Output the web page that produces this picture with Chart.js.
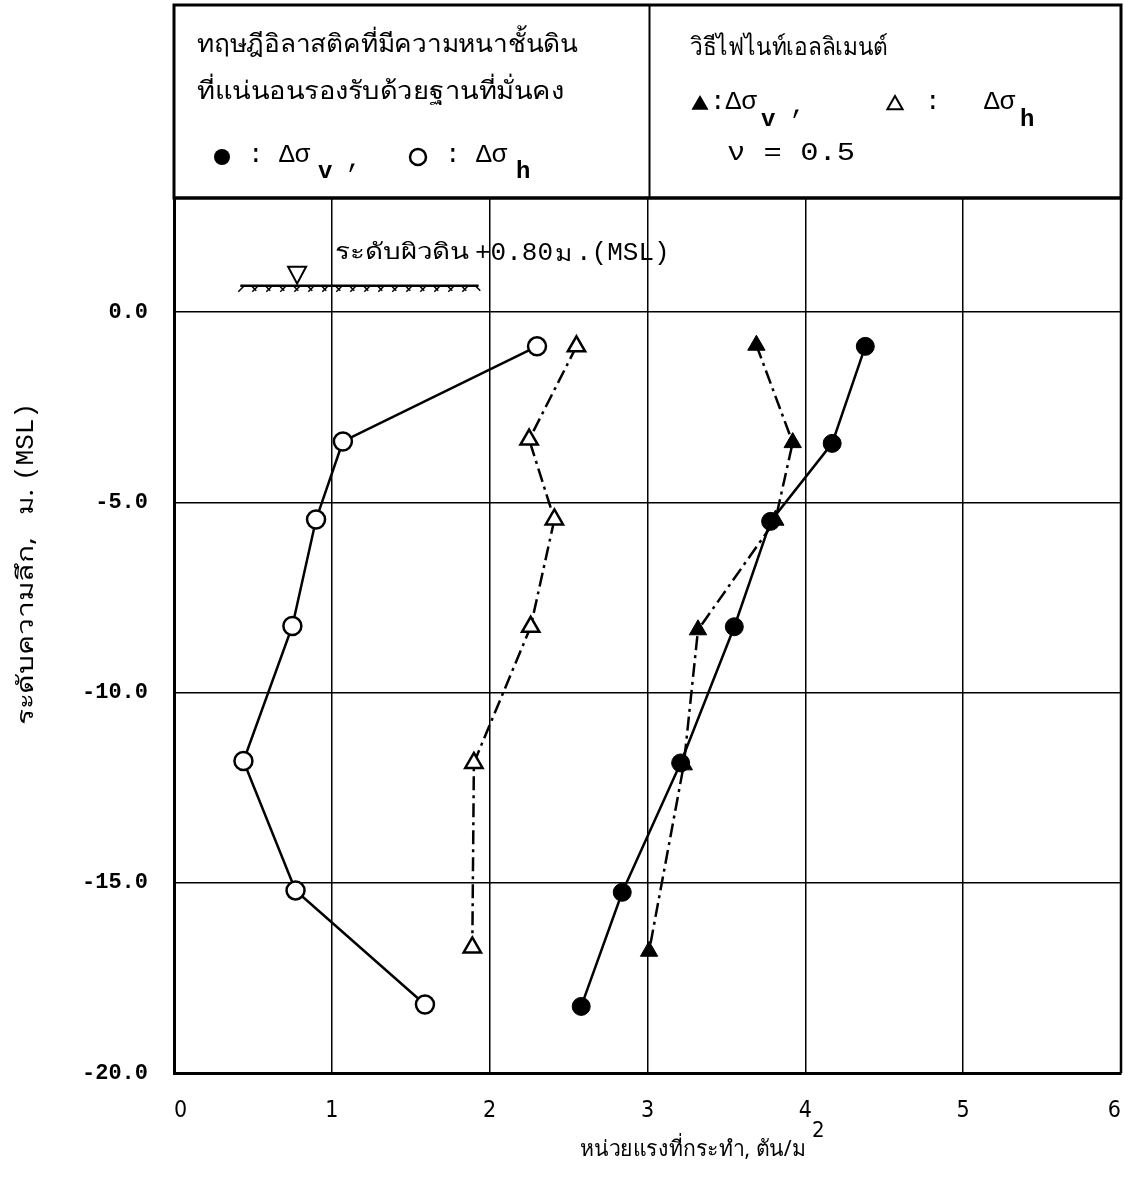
<!DOCTYPE html>
<html>
<head>
<meta charset="utf-8">
<script src="https://cdn.jsdelivr.net/npm/chart.js@4/dist/chart.umd.min.js"></script>
<style>
  html, body { margin:0; padding:0; background:#fff; overflow:hidden; }
  #wrap { width:1125px; height:1181px; }
</style>
</head>
<body>
<div id="wrap"><canvas id="myChart" width="1125" height="1181"></canvas></div>
<script>
// tick values
const xTicks = [0, 1, 2, 3, 4, 5, 6];
const yTicks = [-20, -15, -10, -5, 0];

// elastic theory (circles)
const theoryDepth = [-0.9, -3.4, -5.45, -8.25, -11.8, -15.2, -18.2];
const theoryH = [2.30, 1.07, 0.90, 0.75, 0.44, 0.77, 1.59];
const theoryVDepth = [-0.9, -3.45, -5.5, -8.27, -11.85, -15.25, -18.25];
const theoryV = [4.38, 4.17, 3.78, 3.55, 3.21, 2.84, 2.58];

// finite element (triangles)
const femHDepth = [-0.9, -3.35, -5.45, -8.27, -11.85, -16.7];
const femH = [2.55, 2.25, 2.41, 2.26, 1.90, 1.89];
const femVDepth = [-0.87, -3.43, -5.47, -8.35, -11.9, -16.8];
const femV = [3.69, 3.92, 3.81, 3.32, 3.23, 3.01];

const groundLevel = 0.8;

function pts(xs, ys){
  return xs.map(function(x, i){ return {x: x, y: ys[i]}; });
}

const thaiFont = "'Noto Sans', 'DejaVu Sans', sans-serif";
const monoFont = "'Liberation Mono', 'DejaVu Sans Mono', monospace";
const dashDot = [14, 5, 3, 5];

// draw text stretched to a given width
function fitText(c, text, x, y, w){
  const m = c.measureText(text).width;
  c.save();
  c.translate(x, y);
  c.scale(w / m, 1);
  c.textAlign = 'left';
  c.fillText(text, 0, 0);
  c.restore();
}

function noPadding(){
  return {left: 0, top: 0, right: 0, bottom: 0};
}

// header box, ground symbol, titles
const decorPlugin = {
  id: 'decor',
  afterDraw(chart){
    const c = chart.ctx;
    const a = chart.chartArea;
    const xs = chart.scales.x, ys = chart.scales.y;
    c.save();
    c.strokeStyle = '#000';
    c.fillStyle = '#000';

    // plot frame top / right
    c.lineWidth = 3;
    c.beginPath();
    c.moveTo(a.left, a.top); c.lineTo(a.right, a.top);
    c.stroke();
    c.lineWidth = 2.5;
    c.beginPath();
    c.moveTo(a.right, a.top); c.lineTo(a.right, a.bottom);
    c.stroke();

    // header box
    const mid = xs.getPixelForValue(3) + 2;
    c.lineWidth = 3;
    c.strokeRect(a.left, 5, a.right - a.left, a.top - 5);
    c.lineWidth = 2;
    c.beginPath(); c.moveTo(mid, 5); c.lineTo(mid, a.top); c.stroke();

    c.textBaseline = 'middle';
    c.textAlign = 'left';
    c.font = '25px ' + thaiFont;
    fitText(c, 'ทฤษฎีอิลาสติคที่มีความหนาชั้นดิน', 197, 45, 381);
    fitText(c, 'ที่แน่นอนรองรับด้วยฐานที่มั่นคง', 197, 92, 367);
    fitText(c, 'วิธีไฟไนท์เอลลิเมนต์', 690, 48, 198);

    // legend symbols left
    c.lineWidth = 2.5;
    c.beginPath(); c.arc(222, 157, 8, 0, Math.PI * 2); c.fill();
    c.beginPath(); c.arc(418, 157, 8, 0, Math.PI * 2); c.stroke();
    c.font = '26px ' + monoFont;
    c.fillText(':', 248, 155);
    c.fillText('Δσ', 279, 155);
    c.fillText(',', 346, 160);
    c.fillText(':', 445, 155);
    c.fillText('Δσ', 476, 155);
    c.font = 'bold 24px ' + monoFont;
    c.fillText('v', 318, 172);
    c.fillText('h', 516, 172);

    // legend symbols right
    function tri(x, y, r, fill){
      c.beginPath();
      c.moveTo(x, y - r); c.lineTo(x + r * 0.95, y + r * 0.65); c.lineTo(x - r * 0.95, y + r * 0.65);
      c.closePath();
      if (fill) c.fill(); else c.stroke();
    }
    tri(700, 104, 9, true);
    c.lineWidth = 2;
    tri(895, 104, 8, false);
    c.font = '26px ' + monoFont;
    c.fillText(':Δσ', 710, 102);
    c.fillText(',', 790, 106);
    c.fillText(':', 925, 102);
    c.fillText('Δσ', 984, 102);
    fitText(c, 'ν = 0.5', 727, 153, 128);
    c.font = 'bold 24px ' + monoFont;
    c.fillText('v', 761, 120);
    c.fillText('h', 1020, 120);

    // ground surface symbol
    const gy = ys.getPixelForValue(groundLevel) + 4;
    const gx1 = xs.getPixelForValue(0.42), gx2 = xs.getPixelForValue(1.93);
    const tx = xs.getPixelForValue(0.78);
    c.lineWidth = 2.5;
    c.beginPath(); c.moveTo(gx1, gy); c.lineTo(gx2, gy); c.stroke();
    c.lineWidth = 1.5;
    for (let x = gx1 + 4; x < gx2 - 4; x += 14) {
      c.beginPath(); c.moveTo(x, gy); c.lineTo(x - 6, gy + 6); c.stroke();
      c.beginPath(); c.moveTo(x + 7, gy); c.lineTo(x + 12, gy + 5); c.stroke();
    }
    c.lineWidth = 2;
    c.beginPath();
    c.moveTo(tx - 9, gy - 19); c.lineTo(tx + 9, gy - 19); c.lineTo(tx, gy - 2); c.closePath();
    c.stroke();

    c.font = '22px ' + thaiFont;
    fitText(c, 'ระดับผิวดิน', 335, 253, 134);
    c.font = '26px ' + monoFont;
    c.fillText('+0.80', 475, 253);
    c.font = '22px ' + thaiFont;
    fitText(c, 'ม', 555, 255, 18);
    c.font = '26px ' + monoFont;
    c.fillText('.(MSL)', 576, 253);

    // axis titles
    c.font = '22px ' + thaiFont;
    fitText(c, 'หน่วยแรงที่กระทำ, ตัน/ม', 580, 1150, 226);
    c.font = '22px ' + "'DejaVu Sans Condensed', sans-serif";
    c.fillText('2', 812, 1131);

    c.translate(26, 725);
    c.rotate(-Math.PI / 2);
    c.font = '23px ' + thaiFont;
    fitText(c, 'ระดับความลึก,', 0, 0, 188);
    fitText(c, 'ม.', 210, 0, 26);
    c.font = '26px ' + monoFont;
    c.fillText('(MSL)', 244, 0);
    c.restore();
  }
};

const ctx = document.getElementById('myChart').getContext('2d');
const myChart = new Chart(ctx, {
  type: 'scatter',
  data: {
    datasets: [
      {
        label: 'theory dsh',
        data: pts(theoryH, theoryDepth),
        showLine: true,
        borderColor: '#000', borderWidth: 2.5,
        pointStyle: 'circle', pointRadius: 9, pointBorderWidth: 2.5,
        pointBackgroundColor: '#fff', pointBorderColor: '#000'
      },
      {
        label: 'theory dsv',
        data: pts(theoryV, theoryVDepth),
        showLine: true,
        borderColor: '#000', borderWidth: 2.5,
        pointStyle: 'circle', pointRadius: 9, pointBorderWidth: 1,
        pointBackgroundColor: '#000', pointBorderColor: '#000'
      },
      {
        label: 'fem dsh',
        data: pts(femH, femHDepth),
        showLine: true,
        borderColor: '#000', borderWidth: 2.5, borderDash: dashDot,
        pointStyle: 'triangle', pointRadius: 10, pointBorderWidth: 2.5,
        pointBackgroundColor: '#fff', pointBorderColor: '#000'
      },
      {
        label: 'fem dsv',
        data: pts(femV, femVDepth),
        showLine: true,
        borderColor: '#000', borderWidth: 2.5, borderDash: dashDot,
        pointStyle: 'triangle', pointRadius: 10, pointBorderWidth: 1,
        pointBackgroundColor: '#000', pointBorderColor: '#000'
      }
    ]
  },
  options: {
    responsive: false,
    animation: false,
    layout: { autoPadding: false, padding: { left: 0, right: 4, top: 198, bottom: 0 } },
    plugins: { legend: { display: false }, tooltip: { enabled: false } },
    scales: {
      x: {
        type: 'linear', min: 0, max: 6,
        afterBuildTicks: function(scale){ scale.ticks = xTicks.map(function(v){ return {value: v}; }); },
        afterFit: function(scale){
          scale.height = 108; scale.paddingLeft = 0; scale.paddingRight = 0;
          scale.getPadding = noPadding;
        },
        grid: { color: '#000', lineWidth: 1.5, drawTicks: false },
        border: { color: '#000', width: 3 },
        ticks: {
          padding: 24, color: '#000', maxRotation: 0, align: 'inner',
          font: { family: "'DejaVu Sans Condensed', 'Liberation Sans Narrow', sans-serif", size: 23 }
        }
      },
      y: {
        type: 'linear', min: -20, max: 3,
        afterBuildTicks: function(scale){ scale.ticks = yTicks.map(function(v){ return {value: v}; }); },
        afterFit: function(scale){
          scale.width = 174; scale.paddingTop = 0; scale.paddingBottom = 0;
          scale.getPadding = noPadding;
        },
        grid: { color: '#000', lineWidth: 1.5, drawTicks: false },
        border: { color: '#000', width: 3 },
        ticks: {
          padding: 26, color: '#000',
          font: { family: monoFont, size: 22, weight: 'bold' },
          callback: function(v){ return v.toFixed(1); }
        }
      }
    }
  },
  plugins: [decorPlugin]
});
</script>
</body>
</html>
